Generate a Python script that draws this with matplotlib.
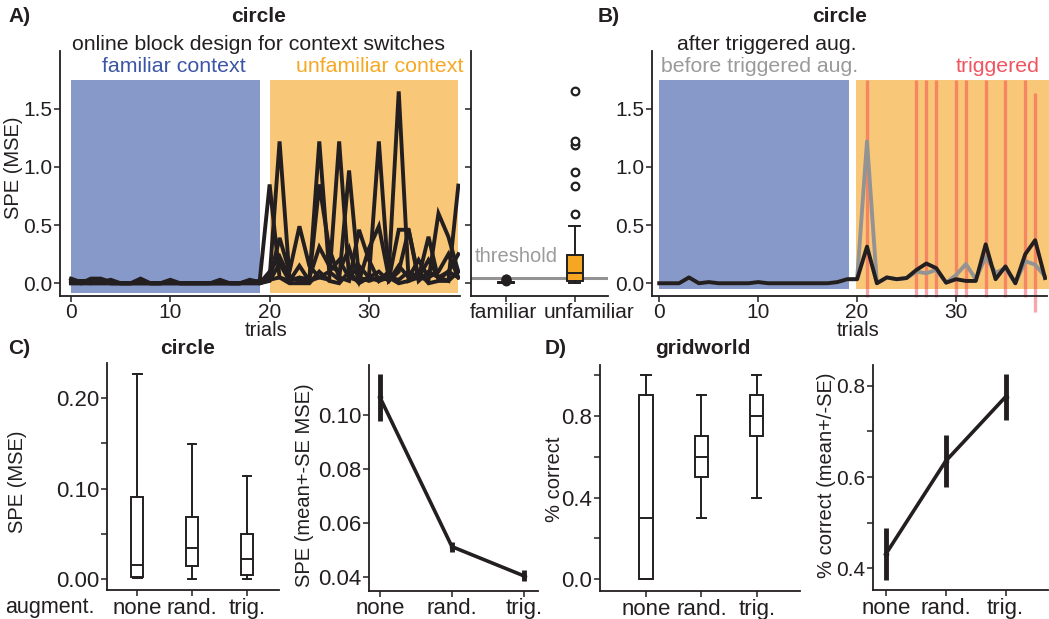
import matplotlib
matplotlib.use("Agg")
import matplotlib.pyplot as plt
from matplotlib.patches import Rectangle
from matplotlib.transforms import ScaledTranslation
import numpy as np

# DATA ##########################################

trials = np.arange(40)
familiar_block = (0, 19)
unfamiliar_block = (20, 39)

# A) SPE per trial, several runs
spe_runs = [
    [0.02, 0.0, 0.04, 0.04, 0.01, 0.0, 0.0, 0.01, 0.0, 0.0, 0.01, 0.0, 0.0, 0.0, 0.0, 0.01, 0.0, 0.0, 0.01, 0.02,
     0.85, 0.05, 0.02, 0.05, 0.03, 1.22, 0.10, 0.03, 0.97, 0.05, 0.02, 0.05, 0.03, 0.46, 0.46, 0.02, 0.10, 0.05, 0.02, 0.84],
    [0.01, 0.02, 0.02, 0.03, 0.0, 0.0, 0.0, 0.04, 0.0, 0.0, 0.0, 0.0, 0.0, 0.0, 0.0, 0.0, 0.0, 0.0, 0.03, 0.01,
     0.05, 1.22, 0.05, 0.02, 0.03, 0.85, 0.30, 0.05, 0.02, 0.46, 0.20, 0.02, 0.10, 1.65, 0.02, 0.05, 0.40, 0.03, 0.10, 0.05],
    [0.0, 0.0, 0.01, 0.01, 0.03, 0.0, 0.0, 0.0, 0.0, 0.0, 0.03, 0.0, 0.0, 0.0, 0.0, 0.03, 0.0, 0.0, 0.01, 0.0,
     0.03, 0.39, 0.10, 0.49, 0.15, 0.05, 0.03, 1.22, 0.05, 0.02, 0.05, 1.22, 0.02, 0.10, 0.46, 0.05, 0.03, 0.60, 0.40, 0.10],
    [0.04, 0.01, 0.0, 0.02, 0.0, 0.0, 0.0, 0.0, 0.0, 0.0, 0.0, 0.0, 0.0, 0.0, 0.0, 0.0, 0.0, 0.0, 0.0, 0.0,
     0.10, 0.23, 0.05, 0.03, 0.05, 0.31, 0.15, 0.10, 0.30, 0.02, 0.30, 0.49, 0.05, 0.03, 0.10, 0.05, 0.20, 0.05, 0.10, 0.25],
    [0.0, 0.0, 0.0, 0.0, 0.0, 0.0, 0.0, 0.02, 0.0, 0.0, 0.0, 0.0, 0.0, 0.0, 0.0, 0.0, 0.0, 0.0, 0.02, 0.0,
     0.02, 0.17, 0.02, 0.15, 0.02, 0.05, 0.10, 0.20, 0.05, 0.15, 0.05, 0.10, 0.02, 0.15, 0.05, 0.20, 0.05, 0.10, 0.25, 0.05],
    [0.01, 0.0, 0.0, 0.0, 0.0, 0.0, 0.0, 0.0, 0.0, 0.0, 0.01, 0.0, 0.0, 0.0, 0.0, 0.0, 0.0, 0.0, 0.0, 0.0,
     0.03, 0.05, 0.0, 0.0, 0.0, 0.10, 0.02, 0.0, 0.10, 0.0, 0.05, 0.02, 0.05, 0.0, 0.02, 0.10, 0.0, 0.02, 0.02, 0.10],
]
threshold = 0.043

# A) box summary (familiar / unfamiliar)
context_labels = ["familiar", "unfamiliar"]
context_q1 = [0.0, 0.022]
context_med = [0.002, 0.086]
context_q3 = [0.008, 0.244]
context_lo = [0.0, 0.0]
context_hi = [0.014, 0.49]
context_fliers = [[0.02, 0.03, 0.035, 0.04], [0.595, 0.84, 0.96, 1.19, 1.22, 1.65]]

# B) before / after triggered augmentation
spe_before = [0.0, 0.0, 0.0, 0.05, 0.0, 0.01, 0.0, 0.0, 0.0, 0.0, 0.01, 0.0, 0.0, 0.0, 0.0, 0.0, 0.0, 0.0, 0.01, 0.035,
              0.035, 1.22, 0.0, 0.05, 0.035, 0.045, 0.10, 0.086, 0.115, 0.005, 0.07, 0.165, 0.035, 0.23, 0.09, 0.13, 0.0, 0.19, 0.16, 0.06]
spe_after = [0.0, 0.0, 0.0, 0.05, 0.0, 0.01, 0.0, 0.0, 0.0, 0.0, 0.01, 0.0, 0.0, 0.0, 0.0, 0.0, 0.0, 0.0, 0.01, 0.035,
             0.035, 0.315, 0.0, 0.05, 0.035, 0.045, 0.115, 0.17, 0.13, 0.005, 0.035, 0.02, 0.02, 0.335, 0.035, 0.145, 0.0, 0.25, 0.37, 0.045]
triggered_trials = [21, 26, 27, 28, 30, 31, 33, 35, 37, 38]
triggered_lo = [-0.115] * 9 + [-0.245]
triggered_hi = [1.75] * 9 + [1.64]

# C) circle: augmentation conditions
aug_labels = ["none", "rand.", "trig."]
circle_q1 = [0.002, 0.015, 0.005]
circle_med = [0.016, 0.034, 0.022]
circle_q3 = [0.091, 0.069, 0.050]
circle_lo = [0.001, 0.0, 0.0]
circle_hi = [0.226, 0.149, 0.114]
circle_mean = [0.1065, 0.0513, 0.0405]
circle_se = [0.0087, 0.0018, 0.0020]

# D) gridworld
grid_q1 = [0.0, 0.5, 0.7]
grid_med = [0.3, 0.6, 0.8]
grid_q3 = [0.9, 0.7, 0.9]
grid_lo = [0.0, 0.3, 0.4]
grid_hi = [1.0, 0.9, 1.0]
grid_mean = [0.431, 0.635, 0.776]
grid_se = [0.057, 0.057, 0.05]

# STYLE #########################################

plt.rcParams.update({"font.family": ["Liberation Sans", "DejaVu Sans"], "font.size": 14})

INK = "#231F20"
BLUE_BG = "#8799C8"
ORANGE_BG = "#F9C778"
BLUE_TXT = "#3C55A5"
ORANGE_TXT = "#F7A823"
BOX_ORANGE = "#F5A623"
GRAY = "#939393"
RED = "#EE3B45"
RED_TXT = "#EF5560"

W, H = 1049, 619
fig = plt.figure(figsize=(W / 100, H / 100), dpi=100)


def add_ax(x0, y0, x1, y1):
    # pixel box, y measured from top
    return fig.add_axes([x0 / W, 1 - y1 / H, (x1 - x0) / W, (y1 - y0) / H])


def ftext(x, y, s, **kw):
    kw.setdefault("va", "center")
    kw.setdefault("ha", "center")
    kw.setdefault("color", INK)
    fig.text(x / W, 1 - y / H, s, **kw)


def style(ax, size=15):
    for side in ["top", "right"]:
        ax.spines[side].set_visible(False)
    for side in ["left", "bottom"]:
        ax.spines[side].set_linewidth(1.3)
        ax.spines[side].set_color(INK)
    ax.tick_params(direction="out", length=4, width=1.1, color=INK,
                   labelcolor=INK, labelsize=size, pad=1.5)
    ax.patch.set_alpha(0)


def box_stats(q1, med, q3, lo, hi, fliers=None):
    out = []
    for i in range(len(q1)):
        out.append({"q1": q1[i], "med": med[i], "q3": q3[i],
                    "whislo": lo[i], "whishi": hi[i],
                    "fliers": fliers[i] if fliers else []})
    return out


def draw_box(ax, stats, width, faces):
    bp = ax.bxp(stats, positions=range(len(stats)), widths=width,
                patch_artist=True, showfliers=True,
                boxprops=dict(linewidth=1.4, edgecolor=INK),
                medianprops=dict(color=INK, linewidth=1.4),
                whiskerprops=dict(color=INK, linewidth=1.4),
                capprops=dict(color=INK, linewidth=1.4),
                capwidths=width * 0.7,
                flierprops=dict(marker="o", markersize=5.5, markerfacecolor="white",
                                markeredgecolor=INK, markeredgewidth=1.6))
    for patch, fc in zip(bp["boxes"], faces):
        patch.set_facecolor(fc)
    return bp


# PANEL A #######################################

axA = add_ax(60, 50.7, 460, 295.7)
style(axA)
axA.add_patch(Rectangle((familiar_block[0], -0.085), familiar_block[1] - familiar_block[0], 1.835,
                        color=BLUE_BG, lw=0, zorder=0))
axA.add_patch(Rectangle((unfamiliar_block[0], -0.085), unfamiliar_block[1] - unfamiliar_block[0], 1.835,
                        color=ORANGE_BG, lw=0, zorder=0))
for run in spe_runs:
    axA.plot(trials, run, color=INK, lw=2.8, solid_joinstyle="miter", zorder=3)
axA.set_xlim(-1.11, 39.17)
axA.set_ylim(-0.107, 2.0)
axA.set_xticks([0, 10, 20, 30])
axA.set_yticks([0, 0.5, 1.0, 1.5])
axA.set_yticklabels(["0.0", "0.5", "1.0", "1.5"])

axAb = add_ax(471, 50.7, 608, 295.7)
style(axAb)
axAb.axhline(threshold, color=GRAY, lw=2.2, zorder=1)
bpA = draw_box(axAb, box_stats(context_q1, context_med, context_q3, context_lo, context_hi, context_fliers),
               0.23, [INK, BOX_ORANGE])
bpA["fliers"][0].set_markerfacecolor(INK)
axAb.set_xlim(-0.507, 1.48)
axAb.set_ylim(-0.107, 2.0)
axAb.set_yticks([0, 0.5, 1.0, 1.5])
axAb.set_yticklabels([])
axAb.set_xticks([0, 1])
axAb.set_xticklabels(context_labels)
# labels in the reference sit a little apart from their ticks
for lab, dx in zip(axAb.get_xticklabels(), [-0.03, 0.14]):
    lab.set_transform(lab.get_transform() + ScaledTranslation(dx, 0, fig.dpi_scale_trans))

ftext(8, 16, "A)", ha="left", fontsize=15, fontweight="bold")
ftext(259, 16, "circle", fontsize=15, fontweight="bold")
ftext(258, 44, "online block design for context switches", fontsize=15.3)
ftext(174, 66, "familiar context", fontsize=15.4, color=BLUE_TXT)
ftext(380, 66, "unfamiliar context", fontsize=15.4, color=ORANGE_TXT)
ftext(475, 257, "threshold", ha="left", fontsize=14.5, color="#9B9B9B")
ftext(14, 168, "SPE (MSE)", rotation=90, fontsize=14.5)
ftext(266, 331, "trials", fontsize=14.5)

# PANEL B #######################################

axB = add_ax(652, 50.7, 1047, 295.7)
style(axB)
axB.add_patch(Rectangle((familiar_block[0], -0.05), familiar_block[1] + 0.2 - familiar_block[0], 1.8,
                        color=BLUE_BG, lw=0, zorder=0))
axB.add_patch(Rectangle((unfamiliar_block[0] - 0.1, -0.05), 19.9, 1.8,
                        color=ORANGE_BG, lw=0, zorder=0, clip_on=False))
axB.vlines(triggered_trials, triggered_lo, triggered_hi, color=RED, alpha=0.45,
           lw=2.4, zorder=1, clip_on=False)
axB.plot(trials, spe_before, color=GRAY, lw=2.8, zorder=2)
axB.plot(trials, spe_after, color=INK, lw=2.8, zorder=3)
axB.set_xlim(-0.74, 39.2)
axB.set_ylim(-0.107, 2.0)
axB.set_xticks([0, 10, 20, 30])
axB.set_yticks([0, 0.5, 1.0, 1.5])
axB.set_yticklabels(["0.0", "0.5", "1.0", "1.5"])

ftext(598, 16, "B)", ha="left", fontsize=15, fontweight="bold")
ftext(840, 16, "circle", fontsize=15, fontweight="bold")
ftext(767, 45, "after triggered aug.", fontsize=15.3)
ftext(760, 67, "before triggered aug.", fontsize=15.3, color="#9A9A9A")
ftext(998, 67, "triggered", fontsize=15.3, color=RED_TXT)
ftext(858, 331, "trials", fontsize=14.5)

# PANEL C #######################################

axC = add_ax(106.7, 363, 279, 590)
style(axC, 16)
draw_box(axC, box_stats(circle_q1, circle_med, circle_q3, circle_lo, circle_hi),
         0.22, ["white"] * 3)
axC.set_xlim(-0.557, 2.58)
axC.set_ylim(-0.0118, 0.2385)
axC.set_yticks([0, 0.05, 0.10, 0.15, 0.20])
axC.set_yticklabels(["0.00", "", "0.10", "", "0.20"])
axC.set_xticks([0, 1, 2])
axC.set_xticklabels(aug_labels)

axC2 = add_ax(369, 365, 538, 590.7)
style(axC2, 16)
axC2.errorbar(range(3), circle_mean, yerr=circle_se, color=INK, lw=2.6,
              elinewidth=3.5, capsize=0, marker="o", markersize=3)
axC2.set_xlim(-0.153, 2.197)
axC2.set_ylim(0.035, 0.1185)
axC2.set_yticks([0.04, 0.06, 0.08, 0.10])
axC2.set_yticklabels(["0.04", "0.06", "0.08", "0.10"])
axC2.set_xticks([0, 1, 2])
axC2.set_xticklabels(aug_labels)

ftext(8, 348, "C)", ha="left", fontsize=15, fontweight="bold")
ftext(188, 348, "circle", fontsize=15, fontweight="bold")
ftext(5, 607, "augment.", ha="left", fontsize=15.5)
ftext(18, 482, "SPE (MSE)", rotation=90, fontsize=14.5)
ftext(305, 485, "SPE (mean+-SE MSE)", rotation=90, fontsize=14.5)

# PANEL D #######################################

axD = add_ax(600, 365, 800, 591)
style(axD, 16)
draw_box(axD, box_stats(grid_q1, grid_med, grid_q3, grid_lo, grid_hi),
         0.24, ["white"] * 3)
axD.set_xlim(-0.83, 2.78)
axD.set_ylim(-0.057, 1.049)
axD.set_yticks([0, 0.2, 0.4, 0.6, 0.8, 1.0])
axD.set_yticklabels(["0.0", "", "0.4", "", "0.8", ""])
axD.set_xticks([0, 1, 2])
axD.set_xticklabels(aug_labels)

axD2 = add_ax(872.7, 365, 1048, 590)
style(axD2, 16)
axD2.tick_params(axis="y", labelsize=15)
axD2.errorbar(range(3), grid_mean, yerr=grid_se, color=INK, lw=2.6,
              elinewidth=3.5, capsize=0, marker="o", markersize=3)
axD2.set_xlim(-0.22, 2.71)
axD2.set_ylim(0.352, 0.846)
axD2.set_yticks([0.4, 0.5, 0.6, 0.7, 0.8])
axD2.set_yticklabels(["0.4", "", "0.6", "", "0.8"])
axD2.set_xticks([0, 1, 2])
axD2.set_xticklabels(aug_labels)

ftext(545, 348, "D)", ha="left", fontsize=15, fontweight="bold")
ftext(703, 348, "gridworld", fontsize=15, fontweight="bold")
ftext(555, 479, "% correct", rotation=90, fontsize=14.5)
ftext(826, 475, "% correct (mean+/-SE)", rotation=90, fontsize=14.5)

fig.savefig("out.png", dpi=100, facecolor="white")
